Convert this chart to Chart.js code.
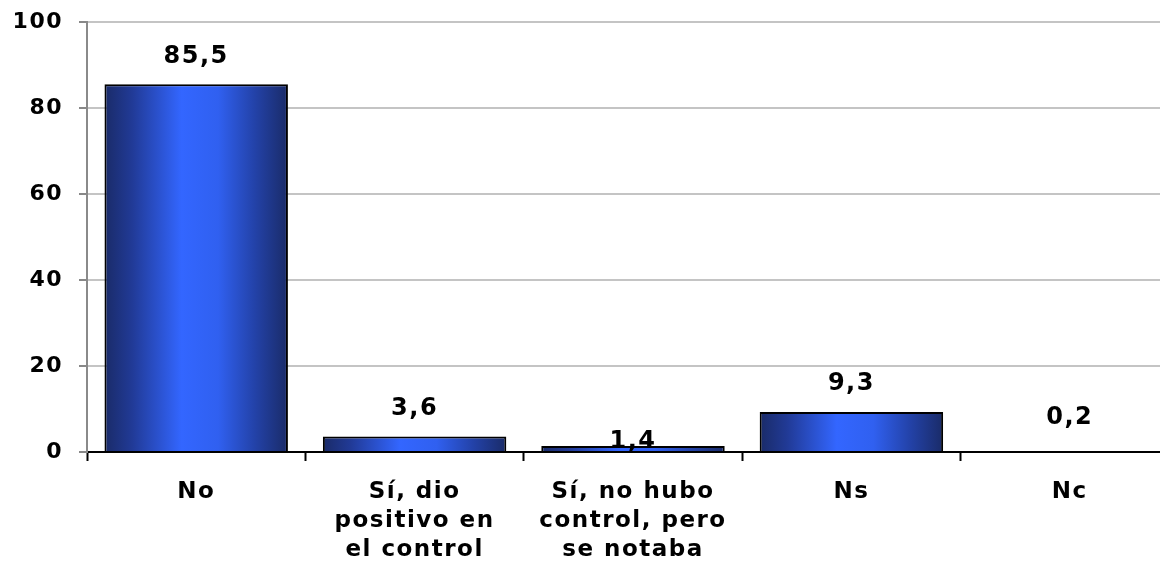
<!DOCTYPE html>
<html>
<head>
<meta charset="utf-8">
<script src="https://cdn.jsdelivr.net/npm/chart.js@4"></script>
<style>
  body { margin: 0; background: #fff; overflow: hidden; }
  #wrap { width: 1180px; height: 574px; }
</style>
</head>
<body>
<div id="wrap"><canvas id="chart" width="1180" height="574"></canvas></div>
<script>
// Data
const categories = ['No', ['Sí, dio', 'positivo en', 'el control'], ['Sí, no hubo', 'control, pero', 'se notaba'], 'Ns', 'Nc'];
const values = [85.5, 3.6, 1.4, 9.3, 0.2];
const yTicks = [0, 20, 40, 60, 80, 100];

const FONT = "'DejaVu Sans', Verdana, sans-serif";
const BAR_PCT = 0.84;

// horizontal gradient across each bar, worked out from the x scale
function barGradient(context) {
  const chart = context.chart;
  const xs = chart.scales.x;
  if (!chart.chartArea || !xs || !xs.width) return '#2f5be8';
  const cx = xs.getPixelForValue(context.dataIndex);
  const w = xs.width / categories.length * BAR_PCT;
  const left = cx - w / 2;
  const g = chart.ctx.createLinearGradient(left, 0, left + w, 0);
  g.addColorStop(0, '#1a2b68');
  g.addColorStop(0.15, '#213a96');
  g.addColorStop(0.42, '#3366ff');
  g.addColorStop(0.62, '#3060f0');
  g.addColorStop(0.82, '#2342a8');
  g.addColorStop(1, '#1a2b68');
  return g;
}

// a bit of letter spacing like the original font
const spacing = {
  id: 'spacing',
  beforeDraw(chart) { chart.ctx.letterSpacing = '1.5px'; }
};

// value labels above the bars
const valueLabels = {
  id: 'valueLabels',
  afterDatasetsDraw(chart, args, opts) {
    const ctx = chart.ctx;
    const meta = chart.getDatasetMeta(0);
    ctx.save();
    ctx.font = 'bold 24px ' + FONT;
    ctx.letterSpacing = '1.5px';
    ctx.fillStyle = '#000';
    ctx.textAlign = 'center';
    ctx.textBaseline = 'middle';
    meta.data.forEach((bar, i) => {
      const off = (opts.offsets && opts.offsets[i] != null) ? opts.offsets[i] : 28;
      const txt = String(values[i]).replace('.', ',');
      ctx.fillText(txt, bar.x, bar.y - off);
    });
    ctx.restore();
  }
};

new Chart(document.getElementById('chart'), {
  type: 'bar',
  data: {
    labels: categories,
    datasets: [{
      data: values,
      backgroundColor: barGradient,
      borderColor: '#000',
      borderWidth: 2,
      borderSkipped: 'bottom',
      categoryPercentage: BAR_PCT,
      barPercentage: 1.0
    }]
  },
  options: {
    responsive: false,
    animation: false,
    layout: { padding: { top: 22, right: 1, left: 0, bottom: 0 } },
    plugins: {
      legend: { display: false },
      tooltip: { enabled: false },
      valueLabels: { offsets: [28, 28, 4, 28, 33] }
    },
    scales: {
      x: {
        afterFit: (s) => { s.height = 122; s.paddingLeft = 0; s.paddingRight = 0; },
        grid: {
          display: true,
          drawOnChartArea: false,
          drawTicks: true,
          tickLength: 9,
          tickWidth: 2,
          tickColor: '#000',
          offset: true
        },
        border: { color: '#000', width: 2 },
        ticks: {
          color: '#000',
          padding: 17,
          maxRotation: 0,
          autoSkip: false,
          font: { family: FONT, size: 23, weight: 'bold', lineHeight: 1.26 }
        }
      },
      y: {
        min: 0,
        max: 100,
        afterFit: (s) => { s.width = 87; s.paddingTop = 0; s.paddingBottom = 0; },
        afterBuildTicks: (s) => { s.ticks = yTicks.map(v => ({ value: v })); },
        grid: {
          color: '#c4c4c4',
          lineWidth: 2,
          tickColor: '#888',
          tickLength: 8,
          tickWidth: 2
        },
        border: { color: '#8a8a8a', width: 2 },
        ticks: {
          color: '#000',
          padding: 16,
          font: { family: FONT, size: 22, weight: 'bold' }
        }
      }
    }
  },
  plugins: [spacing, valueLabels]
});
</script>
</body>
</html>
